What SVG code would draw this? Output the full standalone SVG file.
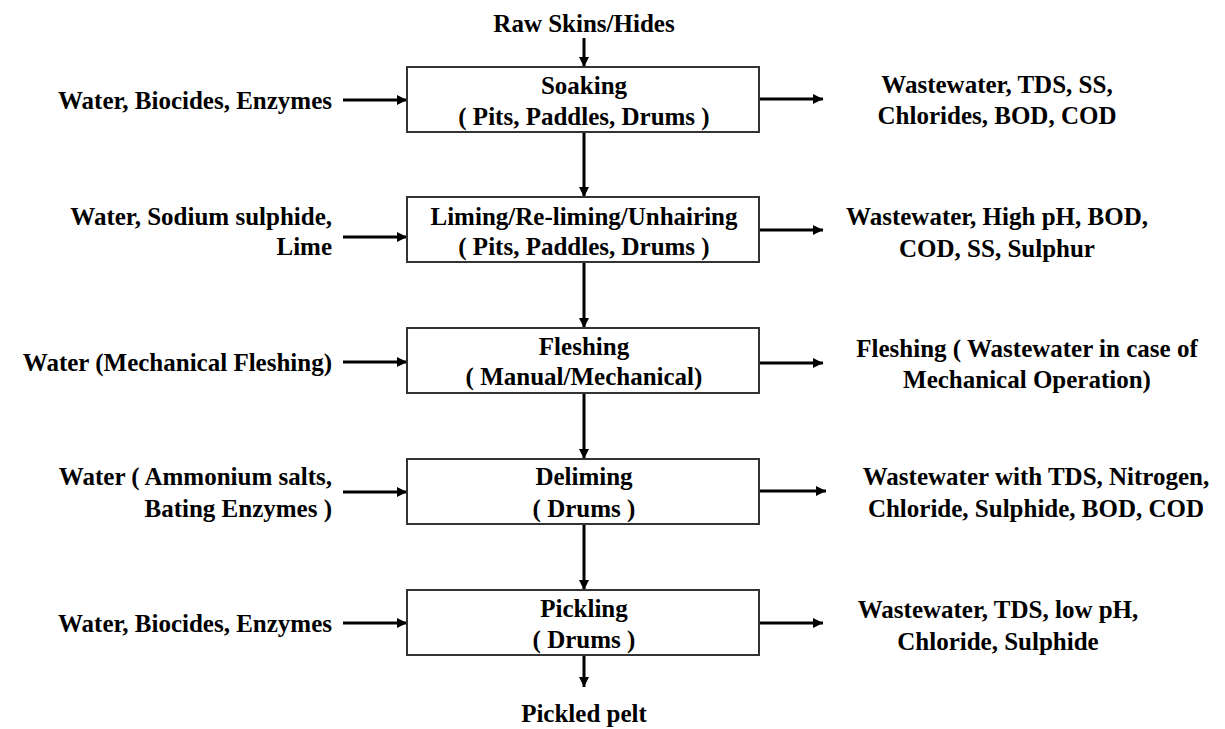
<svg xmlns="http://www.w3.org/2000/svg" width="1225" height="729" viewBox="0 0 1225 729" font-family="Liberation Serif" font-weight="bold" font-size="25">
<style>
text{fill:#000}
.c{text-anchor:middle}
.r{text-anchor:end}
.box{fill:#fff;stroke:#333;stroke-width:2}
.arr{stroke:#000;stroke-width:3;fill:none;marker-end:url(#ah)}
</style>
<defs>
<marker id="ah" markerUnits="userSpaceOnUse" markerWidth="12" markerHeight="12" refX="10" refY="5" orient="auto">
<path d="M0,0 L10,5 L0,10 Z" fill="#000"/>
</marker>
</defs>
<rect width="1225" height="729" fill="#fff"/>
<g id="connectors">
<line class="arr" x1="584" y1="38" x2="584" y2="67"/>
<line class="arr" x1="584" y1="132" x2="584" y2="197"/>
<line class="arr" x1="584" y1="262" x2="584" y2="328"/>
<line class="arr" x1="584" y1="393" x2="584" y2="459"/>
<line class="arr" x1="584" y1="524" x2="584" y2="590"/>
<line class="arr" x1="584" y1="655" x2="584" y2="687"/>
<line class="arr" x1="343" y1="100" x2="407" y2="100"/>
<line class="arr" x1="343" y1="237" x2="407" y2="237"/>
<line class="arr" x1="343" y1="362" x2="407" y2="362"/>
<line class="arr" x1="343" y1="492" x2="407" y2="492"/>
<line class="arr" x1="343" y1="623" x2="407" y2="623"/>
<line class="arr" x1="759" y1="99" x2="823" y2="99"/>
<line class="arr" x1="759" y1="230" x2="823" y2="230"/>
<line class="arr" x1="759" y1="363" x2="823" y2="363"/>
<line class="arr" x1="759" y1="491" x2="826" y2="491"/>
<line class="arr" x1="759" y1="623" x2="823" y2="623"/>
</g>
<g id="raw"><text class="c" x="584" y="32">Raw Skins/Hides</text></g>
<g id="soaking">
<rect class="box" x="407" y="67" width="352" height="65"/>
<text class="c" x="584" y="94">Soaking</text>
<text class="c" x="584" y="125">( Pits, Paddles, Drums )</text>
</g>
<g id="liming">
<rect class="box" x="407" y="197" width="352" height="65"/>
<text class="c" x="584" y="225">Liming/Re-liming/Unhairing</text>
<text class="c" x="584" y="255">( Pits, Paddles, Drums )</text>
</g>
<g id="fleshing">
<rect class="box" x="407" y="328" width="352" height="65"/>
<text class="c" x="584" y="355">Fleshing</text>
<text class="c" x="584" y="385">( Manual/Mechanical)</text>
</g>
<g id="deliming">
<rect class="box" x="407" y="459" width="352" height="65"/>
<text class="c" x="584" y="485">Deliming</text>
<text class="c" x="584" y="517">( Drums )</text>
</g>
<g id="pickling">
<rect class="box" x="407" y="590" width="352" height="65"/>
<text class="c" x="584" y="617">Pickling</text>
<text class="c" x="584" y="648">( Drums )</text>
</g>
<g id="pelt"><text class="c" x="584" y="722">Pickled pelt</text></g>
<g id="in-soaking"><text class="r" x="332" y="109">Water, Biocides, Enzymes</text></g>
<g id="in-liming">
<text class="r" x="332" y="225">Water, Sodium sulphide,</text>
<text class="r" x="332" y="255">Lime</text>
</g>
<g id="in-fleshing"><text class="r" x="332" y="371">Water (Mechanical Fleshing)</text></g>
<g id="in-deliming">
<text class="r" x="332" y="485">Water ( Ammonium salts,</text>
<text class="r" x="332" y="517">Bating Enzymes )</text>
</g>
<g id="in-pickling"><text class="r" x="332" y="632">Water, Biocides, Enzymes</text></g>
<g id="out-soaking">
<text class="c" x="997" y="93">Wastewater, TDS, SS,</text>
<text class="c" x="997" y="124">Chlorides, BOD, COD</text>
</g>
<g id="out-liming">
<text class="c" x="997" y="225">Wastewater, High pH, BOD,</text>
<text class="c" x="997" y="257">COD, SS, Sulphur</text>
</g>
<g id="out-fleshing">
<text class="c" x="1027" y="357">Fleshing ( Wastewater in case of</text>
<text class="c" x="1027" y="388">Mechanical Operation)</text>
</g>
<g id="out-deliming">
<text class="c" x="1036" y="485">Wastewater with TDS, Nitrogen,</text>
<text class="c" x="1036" y="517">Chloride, Sulphide, BOD, COD</text>
</g>
<g id="out-pickling">
<text class="c" x="998" y="618">Wastewater, TDS, low pH,</text>
<text class="c" x="998" y="650">Chloride, Sulphide</text>
</g>
</svg>
